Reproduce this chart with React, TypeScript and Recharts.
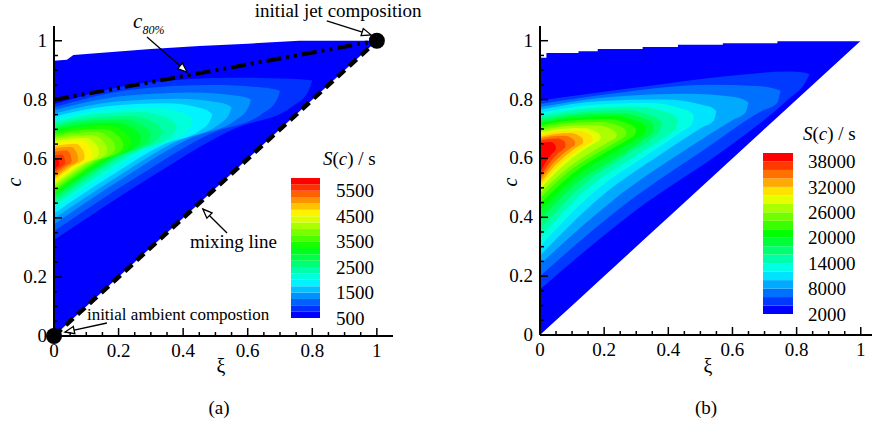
import React from 'react';
import { ComposedChart, Area, Line, XAxis, YAxis, ReferenceDot, ReferenceLine, BarChart, Bar } from 'recharts';

const FONT = '"Liberation Serif", "Times New Roman", serif';

// axis ticks (majors every 0.2, minors every 0.05)
const TICKS = [0, 0.05, 0.1, 0.15, 0.2, 0.25, 0.3, 0.35, 0.4, 0.45, 0.5, 0.55, 0.6, 0.65, 0.7, 0.75, 0.8, 0.85, 0.9, 0.95, 1];

// contour levels (S(c) / s)
const LEVELS_A = [500, 750, 1000, 1250, 1500, 1750, 2000, 2250, 2500, 2750, 3000, 3250, 3500, 3750, 4000, 4250, 4500, 4750, 5000, 5250, 5500, 5750, 6000];
const CBAR_TICKS_A = [500, 1500, 2500, 3500, 4500, 5500];
const LEVELS_B = [2000, 4000, 6000, 8000, 10000, 12000, 14000, 16000, 18000, 20000, 22000, 24000, 26000, 28000, 30000, 32000, 34000, 36000, 38000, 40000];
const CBAR_TICKS_B = [2000, 8000, 14000, 20000, 26000, 32000, 38000];

// upper edge of the domain [xi, c]; lower edge is the mixing line c = xi
const UPPER_EDGE_A = [[0, 0.932], [0.04, 0.936], [0.06, 0.952], [0.18, 0.962], [0.3, 0.972], [0.45, 0.982], [0.6, 0.99], [0.76, 1], [1, 1]];
const UPPER_EDGE_B = [[0, 0.942], [0.02, 0.958], [0.12, 0.964], [0.18, 0.972], [0.32, 0.979], [0.43, 0.986], [0.57, 0.991], [0.74, 0.998], [1, 1]];

const C80_LINE = [{ x: 0, y: 0.8 }, { x: 1, y: 1 }];
const MIXING_LINE = [{ x: 0, y: 0 }, { x: 1, y: 1 }];

// each contour: [xi, c_low, c_high], region where S >= level
const CONTOURS_A = [
  [[0, 0.325, 0.785], [0.28, 0.525, 0.857], [0.56, 0.703, 0.875], [0.736, 0.776, 0.871], [0.788, 0.829, 0.867], [0.8, 0.865, 0.865]],
  [[0, 0.355, 0.775], [0.245, 0.531, 0.835], [0.49, 0.688, 0.85], [0.644, 0.752, 0.842], [0.69, 0.799, 0.834], [0.7, 0.83, 0.83]],
  [[0, 0.378, 0.765], [0.214, 0.534, 0.813], [0.427, 0.673, 0.825], [0.561, 0.73, 0.815], [0.601, 0.772, 0.806], [0.61, 0.8, 0.8]],
  [[0, 0.398, 0.754], [0.193, 0.537, 0.794], [0.385, 0.662, 0.804], [0.506, 0.713, 0.792], [0.542, 0.75, 0.781], [0.55, 0.775, 0.775]],
  [[0, 0.415, 0.743], [0.172, 0.539, 0.779], [0.343, 0.65, 0.788], [0.451, 0.695, 0.773], [0.483, 0.728, 0.758], [0.49, 0.75, 0.75]],
  [[0, 0.43, 0.733], [0.151, 0.541, 0.765], [0.301, 0.64, 0.773], [0.396, 0.68, 0.756], [0.424, 0.71, 0.739], [0.43, 0.73, 0.73]],
  [[0, 0.443, 0.724], [0.133, 0.542, 0.752], [0.266, 0.63, 0.759], [0.35, 0.666, 0.739], [0.374, 0.692, 0.721], [0.38, 0.71, 0.71]],
  [[0, 0.455, 0.715], [0.117, 0.544, 0.739], [0.235, 0.623, 0.745], [0.308, 0.655, 0.725], [0.33, 0.679, 0.706], [0.335, 0.695, 0.695]],
  [[0, 0.465, 0.707], [0.105, 0.545, 0.729], [0.21, 0.616, 0.734], [0.276, 0.645, 0.712], [0.296, 0.666, 0.692], [0.3, 0.68, 0.68]],
  [[0, 0.474, 0.699], [0.095, 0.546, 0.718], [0.189, 0.61, 0.723], [0.248, 0.636, 0.701], [0.266, 0.655, 0.68], [0.27, 0.668, 0.668]],
  [[0, 0.483, 0.691], [0.084, 0.547, 0.708], [0.168, 0.604, 0.712], [0.221, 0.627, 0.69], [0.236, 0.645, 0.668], [0.24, 0.656, 0.656]],
  [[0, 0.491, 0.683], [0.075, 0.548, 0.697], [0.151, 0.6, 0.701], [0.198, 0.62, 0.679], [0.212, 0.636, 0.658], [0.215, 0.646, 0.646]],
  [[0, 0.499, 0.675], [0.067, 0.55, 0.688], [0.133, 0.596, 0.691], [0.175, 0.614, 0.669], [0.187, 0.628, 0.649], [0.19, 0.637, 0.637]],
  [[0, 0.507, 0.667], [0.058, 0.552, 0.678], [0.116, 0.592, 0.681], [0.152, 0.608, 0.66], [0.163, 0.62, 0.64], [0.165, 0.628, 0.628]],
  [[0, 0.514, 0.659], [0.049, 0.553, 0.669], [0.098, 0.588, 0.671], [0.129, 0.603, 0.651], [0.138, 0.613, 0.631], [0.14, 0.62, 0.62]],
  [[0, 0.521, 0.651], [0.042, 0.555, 0.659], [0.084, 0.585, 0.661], [0.11, 0.597, 0.641], [0.118, 0.606, 0.623], [0.12, 0.612, 0.612]],
  [[0, 0.528, 0.643], [0.033, 0.556, 0.649], [0.067, 0.582, 0.651], [0.087, 0.592, 0.633], [0.094, 0.6, 0.615], [0.095, 0.605, 0.605]],
  [[0, 0.536, 0.634], [0.026, 0.559, 0.639], [0.053, 0.579, 0.64], [0.069, 0.588, 0.623], [0.074, 0.594, 0.607], [0.075, 0.598, 0.598]],
  [[0, 0.544, 0.624], [0.019, 0.562, 0.627], [0.039, 0.578, 0.628], [0.051, 0.584, 0.614], [0.054, 0.589, 0.6], [0.055, 0.592, 0.592]],
  [[0, 0.553, 0.612], [0.012, 0.565, 0.614], [0.025, 0.576, 0.615], [0.032, 0.581, 0.603], [0.0345, 0.584, 0.592], [0.035, 0.586, 0.586]],
  [[0, 0.563, 0.598], [0.006, 0.569, 0.6], [0.011, 0.575, 0.6], [0.015, 0.577, 0.592], [0.016, 0.58, 0.58]],
];

const CONTOURS_B = [
  [[0, 0.155, 0.797], [0.294, 0.42, 0.84], [0.588, 0.64, 0.88], [0.773, 0.8, 0.895], [0.828, 0.86, 0.891], [0.84, 0.885, 0.885]],
  [[0, 0.2, 0.785], [0.26, 0.44, 0.825], [0.525, 0.64, 0.85], [0.69, 0.76, 0.845], [0.739, 0.788, 0.834], [0.75, 0.83, 0.83]],
  [[0, 0.24, 0.775], [0.23, 0.46, 0.81], [0.455, 0.63, 0.82], [0.6, 0.73, 0.81], [0.64, 0.755, 0.797], [0.65, 0.79, 0.79]],
  [[0, 0.27, 0.765], [0.19, 0.47, 0.795], [0.385, 0.62, 0.8], [0.505, 0.705, 0.782], [0.542, 0.729, 0.769], [0.55, 0.76, 0.76]],
  [[0, 0.3, 0.755], [0.168, 0.485, 0.782], [0.336, 0.613, 0.788], [0.44, 0.69, 0.77], [0.473, 0.716, 0.754], [0.48, 0.745, 0.745]],
  [[0, 0.33, 0.745], [0.15, 0.5, 0.77], [0.3, 0.61, 0.776], [0.395, 0.677, 0.757], [0.424, 0.704, 0.74], [0.43, 0.73, 0.73]],
  [[0, 0.36, 0.735], [0.133, 0.51, 0.758], [0.266, 0.61, 0.764], [0.35, 0.67, 0.745], [0.374, 0.696, 0.73], [0.38, 0.72, 0.72]],
  [[0, 0.39, 0.727], [0.124, 0.525, 0.748], [0.25, 0.61, 0.753], [0.327, 0.668, 0.735], [0.35, 0.69, 0.721], [0.355, 0.712, 0.712]],
  [[0, 0.42, 0.72], [0.115, 0.54, 0.739], [0.23, 0.62, 0.744], [0.3, 0.666, 0.727], [0.325, 0.686, 0.714], [0.33, 0.705, 0.705]],
  [[0, 0.445, 0.712], [0.105, 0.551, 0.73], [0.21, 0.624, 0.734], [0.276, 0.665, 0.718], [0.296, 0.681, 0.705], [0.3, 0.697, 0.697]],
  [[0, 0.465, 0.704], [0.095, 0.56, 0.72], [0.19, 0.626, 0.724], [0.248, 0.663, 0.709], [0.266, 0.676, 0.697], [0.27, 0.69, 0.69]],
  [[0, 0.48, 0.696], [0.084, 0.565, 0.71], [0.168, 0.627, 0.714], [0.221, 0.66, 0.7], [0.236, 0.67, 0.689], [0.24, 0.682, 0.682]],
  [[0, 0.495, 0.688], [0.067, 0.57, 0.7], [0.133, 0.627, 0.703], [0.175, 0.655, 0.69], [0.187, 0.663, 0.68], [0.19, 0.673, 0.673]],
  [[0, 0.505, 0.681], [0.058, 0.573, 0.692], [0.116, 0.625, 0.695], [0.152, 0.65, 0.683], [0.163, 0.657, 0.672], [0.165, 0.666, 0.666]],
  [[0, 0.515, 0.674], [0.047, 0.576, 0.683], [0.095, 0.623, 0.686], [0.124, 0.645, 0.675], [0.133, 0.651, 0.665], [0.135, 0.659, 0.659]],
  [[0, 0.525, 0.667], [0.038, 0.58, 0.675], [0.077, 0.62, 0.677], [0.101, 0.64, 0.667], [0.108, 0.645, 0.658], [0.11, 0.652, 0.652]],
  [[0, 0.535, 0.66], [0.028, 0.583, 0.666], [0.056, 0.617, 0.668], [0.074, 0.633, 0.659], [0.079, 0.639, 0.65], [0.08, 0.645, 0.645]],
  [[0, 0.55, 0.65], [0.018, 0.587, 0.655], [0.035, 0.613, 0.656], [0.046, 0.625, 0.647], [0.049, 0.63, 0.64], [0.05, 0.635, 0.635]],
];

// annotations of panel (a), in data coordinates
const ARROWS_A = [
  [[0.288, 1.013], [0.412, 0.894]],
  [[0.845, 1.067], [0.982, 1.02]],
  [[0.164, 0.044], [0.034, 0.0135]],
  [[0.536, 0.349], [0.461, 0.43]],
];
const NOTES_A = [
  { x: 0.622, y: 1.081, text: 'initial jet composition', size: 19 },
  { x: 0.102, y: 0.054, text: 'initial ambient compostion', size: 17 },
  { x: 0.421, y: 0.298, text: 'mixing line', size: 19 },
];
const DOTS_A = [[0, 0], [1, 1]];

const AXIS = { stroke: '#000', strokeWidth: 2 };

function jet(f: number) {
  let r = 0, g = 0, b = 0;
  if (f < 0.25) { g = (f / 0.25) * 255; b = 255; }
  else if (f < 0.5) { g = 255; b = 255 * (1 - (f - 0.25) / 0.25); }
  else if (f < 0.75) { r = 255 * ((f - 0.5) / 0.25); g = 255; }
  else { r = 255; g = 255 * (1 - (f - 0.75) / 0.25); }
  return `rgb(${Math.round(r)},${Math.round(g)},${Math.round(b)})`;
}

const isMajor = (v: number) => Math.abs(v * 5 - Math.round(v * 5)) < 1e-6;
const fmt = (v: number) => String(Math.round(v * 10) / 10);

function XTick(props: any) {
  const { x, y, payload } = props;
  const major = isMajor(payload.value);
  return (
    <g>
      <line x1={x} y1={y} x2={x} y2={y - (major ? 8 : 4)} stroke="#000" strokeWidth={1.5} />
      {major && (
        <text x={x} y={y + 21} textAnchor="middle" fontSize={19} fontFamily={FONT} fill="#000">{fmt(payload.value)}</text>
      )}
    </g>
  );
}

function YTick(props: any) {
  const { x, y, payload } = props;
  const major = isMajor(payload.value);
  return (
    <g>
      <line x1={x} y1={y} x2={x + (major ? 8 : 4)} y2={y} stroke="#000" strokeWidth={1.5} />
      {major && (
        <text x={x - 7} y={y + 6} textAnchor="end" fontSize={19} fontFamily={FONT} fill="#000">{fmt(payload.value)}</text>
      )}
    </g>
  );
}

function Arrow(p: any) {
  const { x1, y1, x2, y2 } = p;
  const a = Math.atan2(y2 - y1, x2 - x1);
  const L = 10, w = 0.38;
  const ax = x2 - L * Math.cos(a - w), ay = y2 - L * Math.sin(a - w);
  const bx = x2 - L * Math.cos(a + w), by = y2 - L * Math.sin(a + w);
  return (
    <g>
      <line x1={x1} y1={y1} x2={x2} y2={y2} stroke="#000" strokeWidth={1.3} />
      <polygon points={`${ax},${ay} ${x2},${y2} ${bx},${by}`} fill="#fff" stroke="#000" strokeWidth={1.3} />
    </g>
  );
}

function domainRows(edge: number[][], stepped: boolean) {
  const rows: { x: number; r: number[] }[] = [];
  edge.forEach(([x, c], i) => {
    rows.push({ x, r: [x, c] });
    const next = edge[i + 1];
    if (stepped && next) rows.push({ x: next[0], r: [next[0], c] });
  });
  return rows;
}

const contourRows = (c: number[][]) => c.map(([x, lo, hi]) => ({ x, r: [lo, hi] }));

function Field({ width, margin, xMax, edge, stepped, contours, nBands, children }: any) {
  return (
    <ComposedChart width={width} height={430} margin={margin}>
      <Area data={domainRows(edge, stepped)} dataKey="r" type="linear" fill={jet(0)} fillOpacity={1} stroke="none" isAnimationActive={false} dot={false} activeDot={false} />
      {contours.map((c: number[][], i: number) => (
        <Area key={i} data={contourRows(c)} dataKey="r" type="monotone" fill={jet((i + 1) / (nBands - 1))} fillOpacity={1} stroke="none" isAnimationActive={false} dot={false} activeDot={false} />
      ))}
      {children}
      <XAxis dataKey="x" type="number" domain={[0, xMax]} allowDataOverflow ticks={TICKS} interval={0} tickSize={0} tickMargin={0} tickLine={false} tick={<XTick />} axisLine={AXIS} height={30} />
      <YAxis type="number" domain={[0, 1.05]} allowDataOverflow ticks={TICKS} interval={0} tickSize={0} tickMargin={0} tickLine={false} tick={<YTick />} axisLine={AXIS} width={30} />
    </ComposedChart>
  );
}

function ColorBar({ levels, ticks, left, top, height, barWidth, axisWidth, tickMargin }: any) {
  const n = levels.length - 1;
  const row: any = { name: 'cb', base: levels[0] };
  for (let i = 0; i < n; i++) row['b' + i] = levels[i + 1] - levels[i];
  return (
    <div style={{ position: 'absolute', left, top: top - 10 }}>
      <BarChart width={barWidth + axisWidth} height={height + 20} data={[row]} margin={{ top: 10, bottom: 10, left: 0, right: 0 }} barCategoryGap={0} barGap={0}>
        <XAxis dataKey="name" hide />
        <YAxis type="number" orientation="right" width={axisWidth} domain={[levels[0], levels[n]]} allowDataOverflow ticks={ticks} interval={0} tickLine={false} axisLine={false} tickMargin={tickMargin} tick={{ fontSize: 19, fill: '#000', fontFamily: FONT }} />
        <Bar dataKey="base" stackId="s" fill="transparent" isAnimationActive={false} />
        {Array.from({ length: n }, (_, i) => (
          <Bar key={i} dataKey={'b' + i} stackId="s" fill={jet(i / (n - 1))} isAnimationActive={false} />
        ))}
      </BarChart>
    </div>
  );
}

export default function App() {
  return (
    <div style={{ position: 'absolute', left: 0, top: 0, width: 872, height: 430, overflow: 'hidden', background: '#fff', fontFamily: FONT }}>
      <div style={{ position: 'absolute', left: 0, top: 0 }}>
        <Field width={440} margin={{ top: 26, right: 47, bottom: 64, left: 24 }} xMax={1.05} edge={UPPER_EDGE_A} stepped={false} contours={CONTOURS_A} nBands={LEVELS_A.length - 1}>
          <Line data={C80_LINE} dataKey="y" type="linear" stroke="#000" strokeWidth={4} strokeDasharray="15 5 3 5 3 5" dot={false} activeDot={false} isAnimationActive={false} />
          <Line data={MIXING_LINE} dataKey="y" type="linear" stroke="#000" strokeWidth={4.5} strokeDasharray="10 6" dot={false} activeDot={false} isAnimationActive={false} />
          {ARROWS_A.map((s, i) => (
            <ReferenceLine key={'a' + i} segment={[{ x: s[0][0], y: s[0][1] }, { x: s[1][0], y: s[1][1] }]} ifOverflow="visible" shape={Arrow} />
          ))}
          {NOTES_A.map((n, i) => (
            <ReferenceDot key={'n' + i} x={n.x} y={n.y} r={0} ifOverflow="visible"
              shape={(p: any) => <text x={p.cx} y={p.cy} fontSize={n.size} fontFamily={FONT} fill="#000">{n.text}</text>} />
          ))}
          <ReferenceDot x={0.245} y={1.043} r={0} ifOverflow="visible"
            shape={(p: any) => (
              <text x={p.cx} y={p.cy} fontFamily={FONT} fill="#000" fontStyle="italic">
                <tspan fontSize={21}>c</tspan>
                <tspan fontSize={12} dy={6}>80%</tspan>
              </text>
            )} />
          {DOTS_A.map((d, i) => (
            <ReferenceDot key={'d' + i} x={d[0]} y={d[1]} r={8} fill="#000" stroke="none" ifOverflow="visible" />
          ))}
        </Field>
      </div>
      <div style={{ position: 'absolute', left: 440, top: 0 }}>
        <Field width={432} margin={{ top: 26, right: 0, bottom: 65, left: 70 }} xMax={1.035} edge={UPPER_EDGE_B} stepped={true} contours={CONTOURS_B} nBands={LEVELS_B.length - 1} />
      </div>
      <ColorBar levels={LEVELS_A} ticks={CBAR_TICKS_A} left={291} top={178} height={140} barWidth={29} axisWidth={60} tickMargin={10} />
      <ColorBar levels={LEVELS_B} ticks={CBAR_TICKS_B} left={763} top={153} height={161} barWidth={30} axisWidth={75} tickMargin={9} />
      <svg width={872} height={430} style={{ position: 'absolute', left: 0, top: 0, pointerEvents: 'none' }} fontFamily={FONT}>
        <text x={15} y={182} transform="rotate(-90 15 182)" textAnchor="middle" dy={6} fontSize={20} fontStyle="italic">c</text>
        <text x={511} y={182} transform="rotate(-90 511 182)" textAnchor="middle" dy={6} fontSize={20} fontStyle="italic">c</text>
        <text x={221} y={373} textAnchor="middle" fontSize={20}>ξ</text>
        <text x={708} y={373} textAnchor="middle" fontSize={20}>ξ</text>
        <text x={219} y={414} textAnchor="middle" fontSize={19}>(a)</text>
        <text x={706} y={414} textAnchor="middle" fontSize={19}>(b)</text>
        <text x={323} y={165} fontSize={19}><tspan fontStyle="italic">S</tspan>(<tspan fontStyle="italic">c</tspan>) / s</text>
        <text x={803} y={140} fontSize={19}><tspan fontStyle="italic">S</tspan>(<tspan fontStyle="italic">c</tspan>) / s</text>
      </svg>
    </div>
  );
}
